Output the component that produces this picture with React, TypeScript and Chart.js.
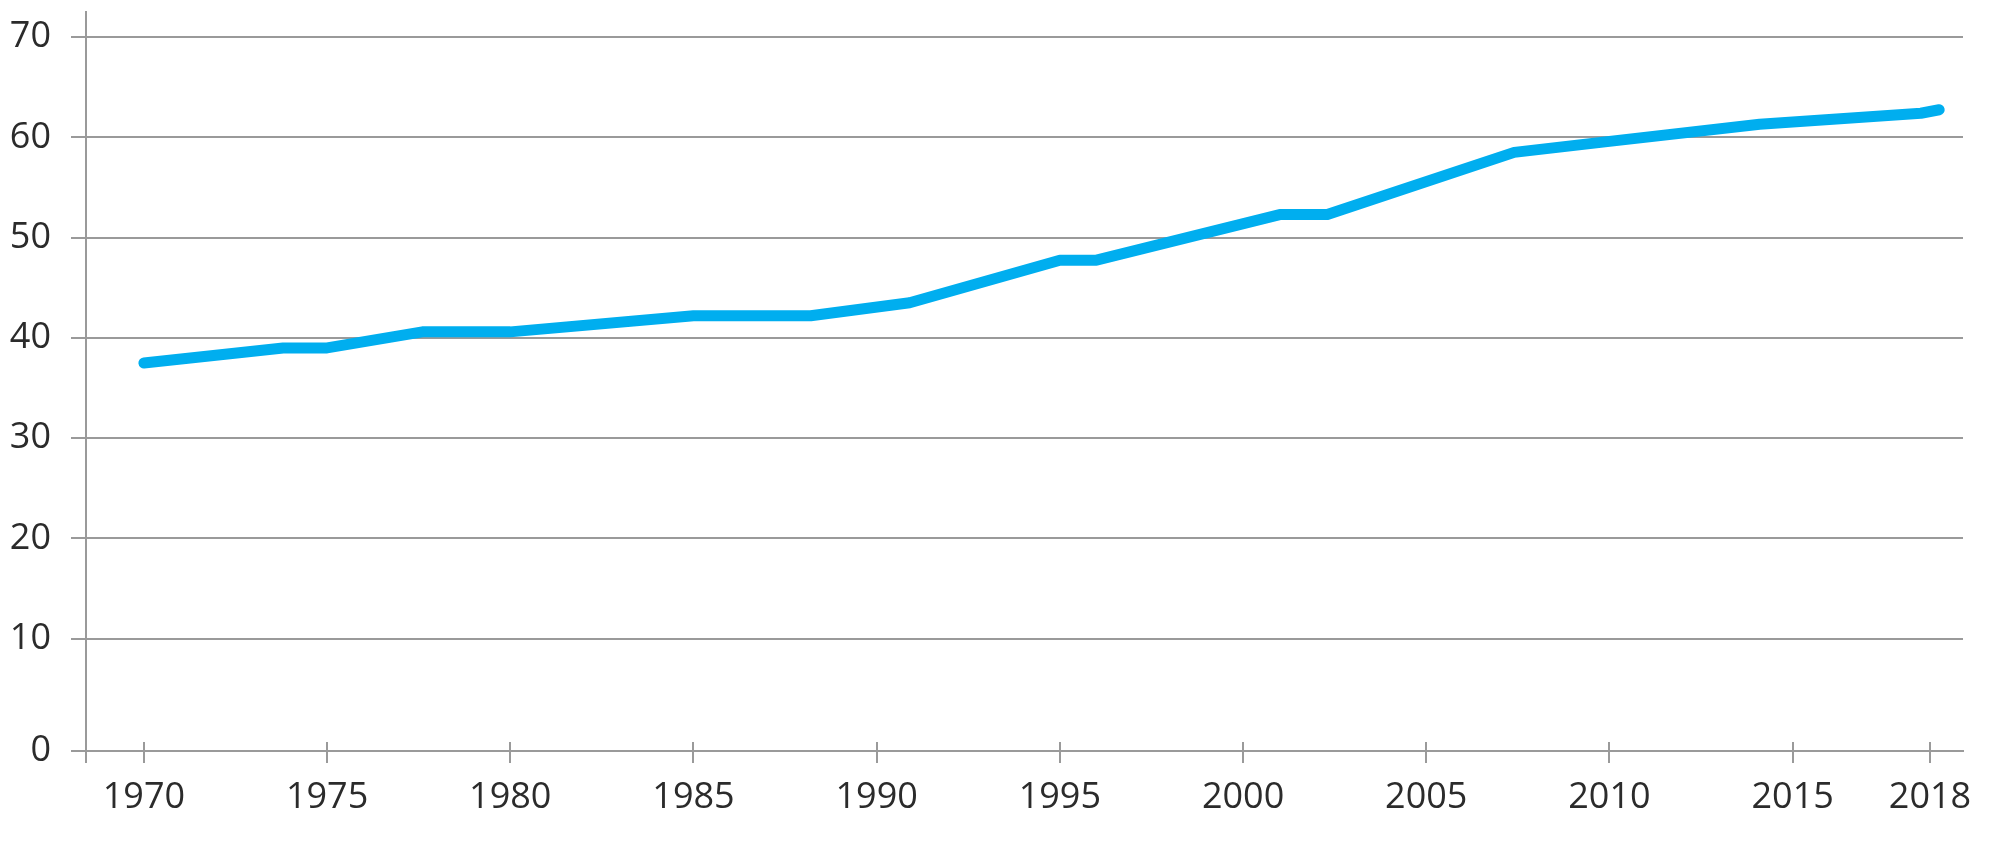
import React, { useEffect, useRef } from 'react';
import { Chart, registerables } from 'chart.js';

Chart.register(...registerables);

// line vertices (year position, value)
const years = [1970, 1973.8, 1975, 1977.6, 1980, 1985, 1988.2, 1990.9, 1995, 1996, 2001, 2002.3, 2007.4, 2010, 2014.1, 2018.5, 2019.0];
const values = [37.5, 39.0, 39.0, 40.6, 40.6, 42.2, 42.2, 43.5, 47.75, 47.75, 52.3, 52.3, 58.5, 59.6, 61.3, 62.4, 62.75];

const xTickValues = [1970, 1975, 1980, 1985, 1990, 1995, 2000, 2005, 2010, 2015, 2018.75];
const xTickLabels = ['1970', '1975', '1980', '1985', '1990', '1995', '2000', '2005', '2010', '2015', '2018'];

// the baseline sits a little under the true zero in the original
const yTickValues = [-1.2, 10, 20, 30, 40, 50, 60, 70];
const yTickLabels = ['0', '10', '20', '30', '40', '50', '60', '70'];

const X_MIN = 1968.42;
const X_MAX = 2019.65;
const Y_MIN = -1.2;
const Y_MAX = 72.5;

const gridGrey = '#9a9a9a';
const labelFont = { family: "'Open Sans', sans-serif", size: 36 };
const labelColor = '#2b2b2b';

// x tick marks also poke a little above the baseline
const innerTicks = {
    id: 'innerTicks',
    beforeDatasetsDraw(chart: any) {
        const { ctx, chartArea, scales } = chart;
        ctx.save();
        ctx.strokeStyle = gridGrey;
        ctx.lineWidth = 2;
        xTickValues.forEach((v) => {
            const px = Math.round(scales.x.getPixelForValue(v));
            ctx.beginPath();
            ctx.moveTo(px, chartArea.bottom - 9);
            ctx.lineTo(px, chartArea.bottom);
            ctx.stroke();
        });
        ctx.restore();
    },
};

const App = () => {
    const chartRef = useRef<HTMLCanvasElement>(null);

    useEffect(() => {
        document.body.style.margin = '0';
        if (!chartRef.current) return;
        const chart = new Chart(chartRef.current, {
            type: 'line',
            data: {
                datasets: [{
                    data: years.map((y, i) => ({ x: y, y: values[i] })),
                    borderColor: '#00aeef',
                    borderWidth: 11,
                    borderCapStyle: 'round',
                    borderJoinStyle: 'round',
                    pointRadius: 0,
                    tension: 0,
                    fill: false,
                }],
            },
            options: {
                responsive: false,
                animation: false,
                layout: { padding: { top: 12, right: 37, bottom: 0, left: 0 } },
                plugins: { legend: { display: false }, tooltip: { enabled: false } },
                scales: {
                    x: {
                        type: 'linear',
                        min: X_MIN,
                        max: X_MAX,
                        afterBuildTicks: (scale: any) => {
                            scale.ticks = [X_MIN, ...xTickValues].map((v) => ({ value: v }));
                        },
                        afterFit: (scale: any) => {
                            scale.height = 115;
                            scale.paddingLeft = 0;
                            scale.paddingRight = 0;
                        },
                        ticks: {
                            autoSkip: false,
                            maxRotation: 0,
                            padding: 13,
                            font: labelFont,
                            color: labelColor,
                            callback: (v: any) => {
                                const i = xTickValues.indexOf(Number(v));
                                return i < 0 ? '' : xTickLabels[i];
                            },
                        },
                        grid: { drawOnChartArea: false, drawTicks: true, tickLength: 12, color: gridGrey, lineWidth: 2 },
                        border: { display: true, color: gridGrey, width: 2 },
                    },
                    y: {
                        type: 'linear',
                        min: Y_MIN,
                        max: Y_MAX,
                        afterBuildTicks: (scale: any) => {
                            scale.ticks = yTickValues.map((v) => ({ value: v }));
                        },
                        afterFit: (scale: any) => {
                            scale.width = 86;
                            scale.paddingTop = 0;
                            scale.paddingBottom = 0;
                        },
                        ticks: {
                            autoSkip: false,
                            padding: 20,
                            font: labelFont,
                            color: labelColor,
                            callback: (v: any) => {
                                const i = yTickValues.indexOf(Number(v));
                                return i < 0 ? '' : yTickLabels[i];
                            },
                        },
                        grid: { drawTicks: true, tickLength: 15, color: gridGrey, lineWidth: 2 },
                        border: { display: true, color: gridGrey, width: 2 },
                    },
                },
            },
            plugins: [innerTicks],
        });
        return () => {
            chart.destroy();
        };
    }, []);

    return (
        <div>
            <canvas ref={chartRef} width={2000} height={866} style={{ display: 'block' }}></canvas>
        </div>
    );
};

export default App;
